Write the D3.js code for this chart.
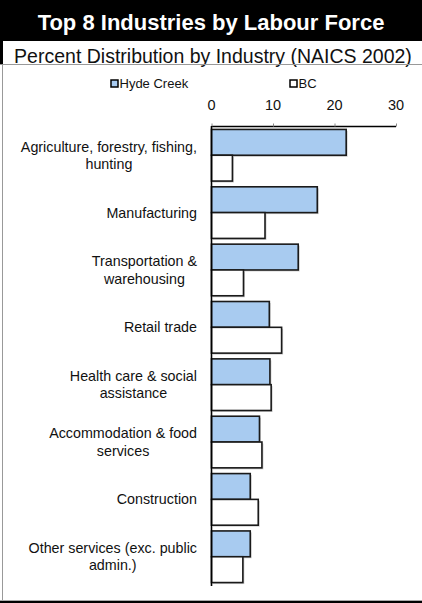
<!DOCTYPE html>
<html><head><meta charset="utf-8">
<script src="https://cdn.jsdelivr.net/npm/d3@7"></script>
<style>
html,body{margin:0;padding:0;background:#fff;}
svg{display:block;font-family:"Liberation Sans",Arial,sans-serif;}
</style></head>
<body>
<svg id="chart" width="422" height="603"></svg>
<script>
const categories = [
  "Agriculture, forestry, fishing, hunting",
  "Manufacturing",
  "Transportation & warehousing",
  "Retail trade",
  "Health care & social assistance",
  "Accommodation & food services",
  "Construction",
  "Other services (exc. public admin.)"
];
const seriesNames = ["Hyde Creek", "BC"];
const hydeCreek = [21.9, 17.2, 14.1, 9.4, 9.5, 7.8, 6.3, 6.3];
const bc = [3.4, 8.7, 5.2, 11.4, 9.7, 8.2, 7.6, 5.1];
const xTicks = [0, 10, 20, 30];
const title = "Top 8 Industries by Labour Force";
const subtitle = "Percent Distribution by Industry (NAICS 2002)";

const W = 422, H = 603;
const svg = d3.select("#chart");
const colors = ["#a8cbf0", "#ffffff"];
const seriesVals = [hydeCreek, bc];

// Header
svg.append("rect").attr("x",0).attr("y",0).attr("width",W).attr("height",41).attr("fill","#000");
svg.append("rect").attr("x",0).attr("y",41).attr("width",3).attr("height",23).attr("fill","#000");
svg.append("text").attr("x",W/2).attr("y",30).attr("text-anchor","middle")
  .attr("font-size",22).attr("font-weight","bold").attr("fill","#fff").text(title);
svg.append("text").attr("x",W/2+2).attr("y",63).attr("text-anchor","middle")
  .attr("font-size",19.5).attr("fill","#111").text(subtitle);
// frame lines
svg.append("line").attr("x1",0).attr("x2",W).attr("y1",64.5).attr("y2",64.5).attr("stroke","#999").attr("stroke-width",1);
svg.append("line").attr("x1",2.5).attr("x2",2.5).attr("y1",64).attr("y2",601).attr("stroke","#999").attr("stroke-width",1);
svg.append("line").attr("x1",0).attr("x2",W).attr("y1",600.5).attr("y2",600.5).attr("stroke","#aaa").attr("stroke-width",1);
svg.append("rect").attr("x",0).attr("y",601).attr("width",W).attr("height",2).attr("fill","#000");

// Scales
const x = d3.scaleLinear().domain([0,30]).range([211.5, 396]);
const y = d3.scaleBand().domain(categories).range([126, 586]).paddingInner(0.1).paddingOuter(0.06);
const ys = d3.scaleBand().domain(seriesNames).range([0, y.bandwidth()]);

// Legend
const legendX = [111, 290];
seriesNames.forEach((s,i)=>{
  svg.append("rect").attr("x",legendX[i]).attr("y",80).attr("width",7).attr("height",7)
    .attr("fill",colors[i]).attr("stroke","#000").attr("stroke-width",1.5);
  svg.append("text").attr("x",legendX[i]+8.5).attr("y",88).attr("font-size",13).attr("fill","#111").text(s);
});

// Tick labels
svg.append("g").selectAll("text").data(xTicks).join("text")
  .attr("x",d=>x(d)).attr("y",110).attr("text-anchor","middle").attr("font-size",14.5).attr("fill","#111")
  .text(d=>d);

// Bars
const g = svg.append("g");
categories.forEach((c,ci)=>{
  seriesNames.forEach((s,si)=>{
    const v = seriesVals[si][ci];
    const y0 = y(c)+ys(s);
    g.append("rect").attr("x",x(0)+1.5).attr("y",y0+1.5).attr("width",x(v)-x(0)).attr("height",ys.bandwidth())
      .attr("fill","#cfcfcf");
  });
});
categories.forEach((c,ci)=>{
  seriesNames.forEach((s,si)=>{
    const v = seriesVals[si][ci];
    g.append("rect").attr("x",x(0)).attr("y",y(c)+ys(s)).attr("width",x(v)-x(0)).attr("height",ys.bandwidth())
      .attr("fill",colors[si]).attr("stroke","#1a1a1a").attr("stroke-width",1.6);
  });
});

// Axes
const axisTop = d3.axisTop(x).tickValues(xTicks).tickSize(3).tickFormat("");
const ag = svg.append("g").attr("transform","translate(0,126.5)").call(axisTop);
ag.select(".domain").attr("stroke","#000").attr("stroke-width",1.4).attr("d",`M${x(0)},0H${x(30)}`);
ag.selectAll(".tick line").attr("stroke","#888");
svg.append("line").attr("x1",x(0)).attr("x2",x(0)).attr("y1",126).attr("y2",586)
  .attr("stroke","#000").attr("stroke-width",1.6);

// Category labels with wrapping
const labelRight = 197, maxW = 182, lineH = 17.5, fs = 14.3;
const lg = svg.append("g").attr("font-size",fs).attr("fill","#111");
categories.forEach(c=>{
  const words = c.split(" ");
  const tmp = lg.append("text").attr("font-size",fs);
  const lines = []; let cur = "";
  words.forEach(w=>{
    const test = cur ? cur+" "+w : w;
    tmp.text(test);
    if (tmp.node().getComputedTextLength() > maxW && cur) { lines.push(cur); cur = w; }
    else cur = test;
  });
  lines.push(cur);
  let bw = 0;
  lines.forEach(l=>{ tmp.text(l); bw = Math.max(bw, tmp.node().getComputedTextLength()); });
  tmp.remove();
  const cx = labelRight - bw/2;
  const cy = y(c) + y.bandwidth()/2;
  const t = lg.append("text").attr("text-anchor","middle");
  lines.forEach((l,i)=>{
    t.append("tspan").attr("x",cx)
      .attr("y", cy + 5 + (i - (lines.length-1)/2)*lineH).text(l);
  });
});
</script>
</body></html>
